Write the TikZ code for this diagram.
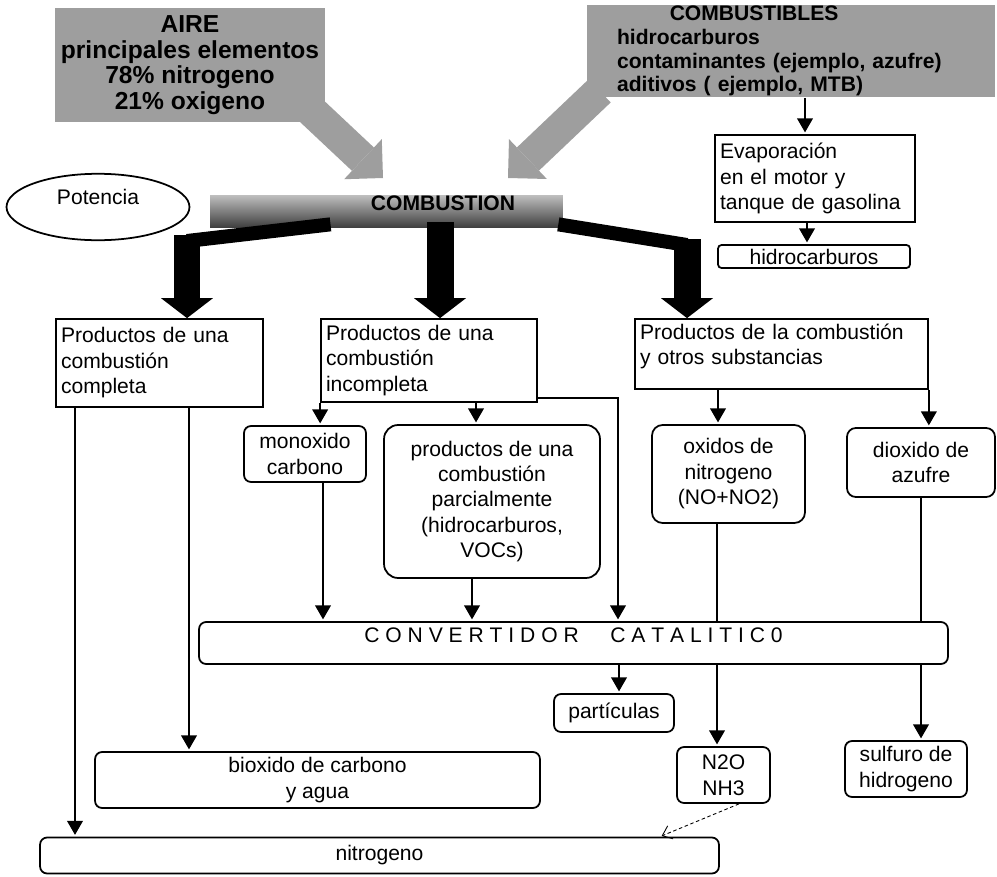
\documentclass[tikz,border=0pt]{standalone}
\usepackage{fontspec}
\setmainfont{Liberation Sans}
\usetikzlibrary{arrows.meta,shapes.geometric,backgrounds}

\begin{document}
\begin{tikzpicture}[x=0.02cm,y=-0.02cm,>={Triangle[width=9pt,length=8pt]},
  prod node/.style={draw,line width=1pt,align=left,inner xsep=0.1cm,inner ysep=0pt,font=\fontsize{12}{14.5}\selectfont},
  round node/.style={draw,line width=1pt,rounded corners=4pt,align=center,inner sep=0pt,font=\fontsize{12}{14.5}\selectfont},
  gray node/.style={fill=black!38,inner sep=0pt,font=\fontsize{12}{13.5}\selectfont\bfseries},
  gray arrow/.style={black!38,line width=0.64cm,-{Triangle[width=1.1cm,length=0.55cm,line width=0pt]}},
  fat band/.style={line width=0.28cm},
  fat arrow/.style={line width=0.54cm,-{Triangle[width=1.04cm,length=0.4cm,line width=0pt]}}]
\useasboundingbox (0,0) rectangle (997,876);

% entradas
\node[gray node,align=center,minimum width=5.4cm,minimum height=2.28cm,font=\fontsize{14}{14.5}\selectfont\bfseries] (air) at (190,65) {AIRE\\principales elementos\\78\% nitrogeno\\21\% oxigeno};
\node[gray node,align=left,text width=6.96cm,minimum width=8.16cm,minimum height=1.86cm] (fuel) at (791,51) {\hspace*{30pt}COMBUSTIBLES\\hidrocarburos\\contaminantes (ejemplo, azufre)\\aditivos ( ejemplo, MTB)};
\coordinate (airtip) at (383,178);
\coordinate (fueltip) at (508,178);
\begin{scope}[on background layer]
  \draw[gray arrow] ([shift={(-25,-22)}]air.south east) -- (airtip);
  \draw[gray arrow] ([shift={(13,-7)}]fuel.south west) -- (fueltip);
\end{scope}

\node[top color=black!25,bottom color=black!75,minimum width=7.06cm,minimum height=0.64cm,inner sep=0pt] (comb) at (386.5,211) {};
\node[font=\fontsize{12}{14.5}\selectfont\bfseries,inner sep=0pt] (combtxt) at (443,203) {COMBUSTION};
\node[ellipse,draw,line width=1pt,minimum width=3.66cm,minimum height=1.22cm,text depth=0.4cm,font=\fontsize{12}{14.5}\selectfont] (pot) at (98,207) {Potencia};

\node[prod node,text width=3.8cm,minimum height=1.74cm] (evap) at (815,178.5) {Evaporación\\en el motor y\\tanque de gasolina};
\node[round node,rounded corners=2pt,minimum width=3.84cm,minimum height=0.46cm] (hidro) at (814,256.5) {hidrocarburos};

% productos
\node[prod node,text width=3.94cm,minimum height=1.76cm] (complete) at (159.5,363) {Productos de una\\combustión\\completa};
\node[prod node,text width=4.12cm,minimum height=1.66cm] (incomp) at (429,360.5) {Productos de una\\combustión\\incompleta};
\node[prod node,text width=5.66cm,minimum height=1.4cm,text depth=0.9cm] (otros) at (781.5,354) {Productos de la combustión\\y otros substancias};

\node[round node,minimum width=2.44cm,minimum height=1.12cm] (monox) at (305,454) {monoxido\\carbono};
\node[round node,rounded corners=8pt,minimum width=4.32cm,minimum height=3.06cm] (parcial) at (492,501.5) {productos de una\\combustión\\parcialmente\\(hidrocarburos,\\VOCs)};
\node[round node,rounded corners=6pt,minimum width=3.06cm,minimum height=1.96cm] (oxidos) at (728.5,474) {oxidos de\\nitrogeno\\(NO+NO2)};
\node[round node,rounded corners=5pt,minimum width=2.96cm,minimum height=1.38cm] (dioxido) at (921,462.5) {dioxido de\\azufre};

\node[round node,minimum width=14.98cm,minimum height=0.84cm,text depth=0.3cm] (conv) at (573.5,643) {C O N V E R T I D O R\hspace{18pt}C A T A L I T I C 0};
\node[round node,minimum width=2.4cm,minimum height=0.76cm] (partic) at (614,713) {partículas};
\node[round node,minimum width=8.9cm,minimum height=1.12cm] (bioxido) at (317.5,780) {bioxido de carbono\\y agua};
\node[round node,minimum width=1.86cm,minimum height=1.12cm] (n2o) at (723.5,775) {N2O\\NH3};
\node[round node,minimum width=2.44cm,minimum height=1.12cm] (sulfuro) at (906,769) {sulfuro de\\hidrogeno};
\node[round node,minimum width=13.58cm,minimum height=0.72cm] (nitro) at (379.5,855.5) {nitrogeno};

% flechas gruesas
\coordinate (lbend) at (187,241);
\coordinate (rbend) at (687,245);
\draw[fat band] ([shift={(-56,-3)}]comb.south) -- (lbend);
\draw[fat arrow] ([yshift=0.12cm]lbend) -- (lbend |- complete.north);
\draw[fat arrow] ([yshift=0.1cm]comb.south -| 440,0) -- (incomp.north -| 440,0);
\draw[fat band] ([shift={(-5,-3)}]comb.south east) -- (rbend);
\draw[fat arrow] ([yshift=0.12cm]rbend) -- (rbend |- otros.north);

\path[->,line width=0.8pt,shorten >=1pt]
    (fuel.south -| 805,0) edge (evap.north -| 805,0)
    (evap.south -| 807,0) edge (hidro.north -| 807,0)

    (complete.south -| 75,0) edge (nitro.north -| 75,0)
    (complete.south -| 189,0) edge (bioxido.north -| 189,0)

    (incomp.south west) edge (monox.north -| incomp.south west)
    (incomp.south -| 476,0) edge (parcial.north -| 476,0)
    (incomp.east |- 0,398) edge [to path={-| (\tikztotarget)}] (conv.north -| 618,0)
    (monox.south -| 323,0) edge (conv.north -| 323,0)
    (parcial.south -| 472,0) edge (conv.north -| 472,0)

    (otros.south -| 718,0) edge (oxidos.north -| 718,0)
    (otros.south east) edge (dioxido.north -| otros.south east)
    (oxidos.south -| 717,0) edge [-,shorten >=0pt] (conv.north -| 717,0)
    (dioxido.south -| 921,0) edge [-,shorten >=0pt] (conv.north -| 921,0)

    (conv.south -| 619,0) edge (partic.north -| 619,0)
    (conv.south -| 717,0) edge (n2o.north -| 717,0)
    (conv.south -| 921,0) edge (sulfuro.north -| 921,0)
    (n2o.south -| 739,0) edge [line width=0.5pt,dash pattern=on 2pt off 1.5pt,-{Straight Barb[length=5pt,width=8pt]}] (nitro.north -| 660,0)
    ;
\end{tikzpicture}
\end{document}
